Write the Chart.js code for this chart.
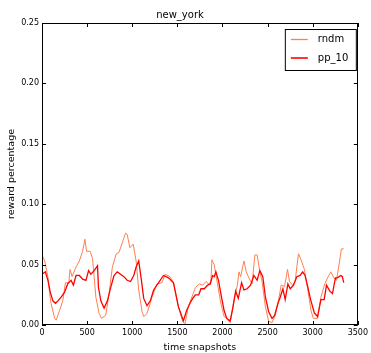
<!DOCTYPE html>
<html>
<head>
<meta charset="utf-8">
<script src="https://cdn.jsdelivr.net/npm/chart.js@4.4.0/dist/chart.umd.min.js"></script>
<style>
  html, body { margin: 0; padding: 0; background: #fff; }
  #wrap { width: 371px; height: 353px; }
</style>
</head>
<body>
<div id="wrap"><canvas id="myChart" width="371" height="353"></canvas></div>
<script>
/*
  new_york reward percentage over time snapshots,
  values
*/

// rndm series
const rndmX = [0, 30, 65, 85, 100, 140, 157, 194, 230, 260, 297, 311, 333, 377, 414, 450, 476, 494,
  534, 560, 578, 597, 633, 659, 706, 743, 780, 823, 853, 889, 926, 944, 974, 1010, 1043, 1072, 1109,
  1127, 1164, 1219, 1274, 1329, 1365, 1420, 1457, 1512, 1559, 1585, 1621, 1650, 1676, 1700, 1744,
  1780, 1817, 1846, 1872, 1883, 1908, 1945, 1982, 2018, 2055, 2091, 2128, 2165, 2183, 2201, 2238,
  2264, 2293, 2329, 2359, 2384, 2410, 2439, 2476, 2512, 2549, 2585, 2622, 2651, 2688, 2721, 2743,
  2776, 2805, 2842, 2871, 2908, 2944, 2981, 3007, 3054, 3091, 3134, 3164, 3201, 3234, 3263, 3288,
  3318, 3344];
const rndmY = [0.058, 0.053, 0.040, 0.026, 0.018, 0.0055, 0.004, 0.012, 0.020, 0.035, 0.035, 0.046,
  0.040, 0.048, 0.053, 0.061, 0.071, 0.061, 0.061, 0.055, 0.040, 0.023, 0.0096, 0.0055, 0.008, 0.026,
  0.048, 0.059, 0.060, 0.068, 0.076, 0.075, 0.064, 0.067, 0.053, 0.029, 0.011, 0.007, 0.0096, 0.023,
  0.034, 0.035, 0.042, 0.040, 0.035, 0.015, 0.003, 0.001, 0.015, 0.021, 0.026, 0.031, 0.034, 0.033,
  0.036, 0.034, 0.036, 0.054, 0.050, 0.034, 0.018, 0.007, 0.005, 0.004, 0.021, 0.033, 0.044, 0.040,
  0.053, 0.044, 0.039, 0.034, 0.058, 0.058, 0.046, 0.036, 0.015, 0.003, 0.002, 0.008, 0.021, 0.033,
  0.032, 0.046, 0.036, 0.033, 0.036, 0.059, 0.054, 0.046, 0.030, 0.012, 0.0055, 0.0055, 0.023, 0.034,
  0.039, 0.044, 0.039, 0.037, 0.048, 0.063, 0.063];

// pp_10 series
const ppX = [0, 37, 66, 92, 121, 150, 176, 212, 249, 285, 322, 348, 377, 414, 450, 487, 516, 542, 578,
  615, 626, 652, 688, 725, 761, 798, 834, 871, 907, 944, 981, 1017, 1043, 1072, 1102, 1127, 1164,
  1200, 1237, 1292, 1347, 1402, 1457, 1512, 1567, 1603, 1640, 1670, 1700, 1737, 1762, 1799, 1836,
  1865, 1890, 1908, 1927, 1956, 1982, 2018, 2048, 2084, 2117, 2146, 2175, 2212, 2238, 2274, 2311,
  2348, 2384, 2414, 2447, 2476, 2512, 2549, 2578, 2615, 2640, 2670, 2695, 2725, 2751, 2787, 2824,
  2860, 2889, 2915, 2944, 2977, 3018, 3054, 3091, 3127, 3153, 3190, 3219, 3252, 3274, 3311, 3329, 3344];
const ppY = [0.042, 0.044, 0.037, 0.027, 0.020, 0.018, 0.020, 0.023, 0.027, 0.034, 0.037, 0.033, 0.041,
  0.041, 0.038, 0.037, 0.045, 0.042, 0.045, 0.049, 0.031, 0.020, 0.014, 0.020, 0.031, 0.041, 0.044,
  0.042, 0.040, 0.037, 0.036, 0.041, 0.048, 0.053, 0.037, 0.022, 0.016, 0.020, 0.029, 0.035, 0.041,
  0.039, 0.035, 0.015, 0.0036, 0.012, 0.018, 0.022, 0.025, 0.025, 0.030, 0.030, 0.033, 0.034, 0.041,
  0.040, 0.044, 0.037, 0.026, 0.012, 0.0055, 0.003, 0.015, 0.028, 0.022, 0.035, 0.029, 0.030, 0.033,
  0.041, 0.037, 0.045, 0.040, 0.023, 0.011, 0.0055, 0.008, 0.018, 0.023, 0.030, 0.021, 0.034, 0.030,
  0.033, 0.040, 0.041, 0.044, 0.041, 0.032, 0.021, 0.010, 0.007, 0.021, 0.021, 0.033, 0.028, 0.026,
  0.039, 0.039, 0.041, 0.040, 0.035];

const seriesNames = ["rndm", "pp_10"];
const seriesColors = ["#ff7f50", "#ff0000"];
const seriesWidths = [1, 1.3];

const FONT = "'DejaVu Sans', sans-serif";

/*
  Draws the black box round the plot and matplotlib style inward ticks
*/
const frameTicks = {
  id: "frameTicks",
  afterDatasetsDraw(chart) {
    const ctx = chart.ctx;
    const a = chart.chartArea;
    const x = chart.scales.x;
    const y = chart.scales.y;
    ctx.save();
    ctx.strokeStyle = "#000";
    ctx.lineWidth = 1;
    ctx.beginPath();
    x.ticks.forEach(function (t) {
      const px = Math.round(x.getPixelForValue(t.value)) + 0.5;
      ctx.moveTo(px, a.bottom);
      ctx.lineTo(px, a.bottom - 4);
      ctx.moveTo(px, a.top);
      ctx.lineTo(px, a.top + 4);
    });
    y.ticks.forEach(function (t) {
      const py = Math.round(y.getPixelForValue(t.value)) + 0.5;
      ctx.moveTo(a.left, py);
      ctx.lineTo(a.left + 4, py);
      ctx.moveTo(a.right, py);
      ctx.lineTo(a.right - 4, py);
    });
    ctx.stroke();
    ctx.strokeRect(Math.round(a.left) + 0.5, Math.round(a.top) + 0.5,
      Math.round(a.width) - 1, Math.round(a.height) - 1);
    ctx.restore();
  },
};

/*
  Legend box in the upper right corner of the plot
*/
const boxLegend = {
  id: "boxLegend",
  afterDraw(chart) {
    const ctx = chart.ctx;
    const a = chart.chartArea;
    const left = a.right - 73;
    const top = a.top + 6;
    ctx.save();
    ctx.fillStyle = "#fff";
    ctx.fillRect(left, top, 71, 41);
    ctx.strokeStyle = "#000";
    ctx.lineWidth = 1;
    ctx.strokeRect(left + 0.5, top + 0.5, 71, 41);
    ctx.font = "10px " + FONT;
    ctx.textBaseline = "middle";
    chart.data.datasets.forEach(function (ds, i) {
      const ly = top + 10.5 + i * 18.5;
      ctx.strokeStyle = ds.borderColor;
      ctx.lineWidth = ds.borderWidth + 0.3;
      ctx.beginPath();
      ctx.moveTo(left + 6, ly);
      ctx.lineTo(left + 23, ly);
      ctx.stroke();
      ctx.fillStyle = "#000";
      ctx.fillText(ds.label, left + 33, ly);
    });
    ctx.restore();
  },
};

// Build datasets from the arrays
const xs = [rndmX, ppX];
const ys = [rndmY, ppY];
const datasets = seriesNames.map(function (name, i) {
  return {
    label: name,
    data: xs[i].map(function (v, j) { return { x: v, y: ys[i][j] }; }),
    borderColor: seriesColors[i],
    borderWidth: seriesWidths[i],
    pointRadius: 0,
    tension: 0,
    fill: false,
    order: i === 0 ? 1 : 0,
  };
});

const config = {
  type: "line",
  data: { datasets: datasets },
  options: {
    responsive: false,
    animation: false,
    layout: { autoPadding: false, padding: { left: 0, right: 11, top: 0, bottom: 0 } },
    plugins: {
      legend: { display: false },
      tooltip: { enabled: false },
      title: {
        display: true,
        text: "new_york",
        color: "#000",
        font: { family: FONT, size: 10, weight: "normal" },
        padding: { top: 9, bottom: 2 },
      },
    },
    scales: {
      x: {
        type: "linear",
        min: 0,
        max: 3500,
        grid: { display: false, drawTicks: false },
        border: { display: false },
        ticks: {
          stepSize: 500,
          padding: 3,
          maxRotation: 0,
          color: "#000",
          font: { family: FONT, size: 8 },
          callback: function (v) { return String(v); },
        },
        title: {
          display: true,
          text: "time snapshots",
          color: "#000",
          font: { family: FONT, size: 9.5 },
          padding: { top: 0, bottom: 0 },
        },
        afterFit: function (scale) { scale.height = 28; },
      },
      y: {
        min: 0,
        max: 0.25,
        grid: { display: false, drawTicks: false },
        border: { display: false },
        ticks: {
          stepSize: 0.05,
          padding: 3,
          color: "#000",
          font: { family: FONT, size: 8 },
          callback: function (v) { return v.toFixed(2); },
        },
        title: {
          display: true,
          text: "reward percentage",
          color: "#000",
          font: { family: FONT, size: 9.5 },
          padding: { top: 6, bottom: 0 },
        },
        afterFit: function (scale) { scale.width = 42; },
      },
    },
  },
  plugins: [frameTicks, boxLegend],
};

const myChart = new Chart(document.getElementById("myChart"), config);
</script>
</body>
</html>
